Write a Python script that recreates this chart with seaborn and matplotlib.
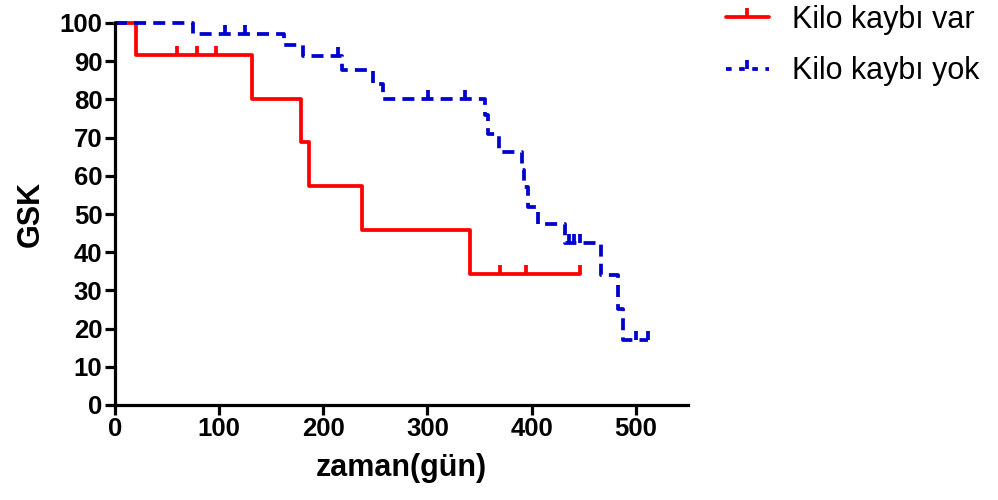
import matplotlib
matplotlib.use("Agg")
import matplotlib.pyplot as plt
from matplotlib.lines import Line2D
from matplotlib.path import Path
import pandas as pd
import seaborn as sns

# Kaplan-Meier steps (time in days, survival %)
var_times = [0, 20, 132, 179, 186, 237, 341, 446]
var_surv = [100, 91.7, 80.2, 68.8, 57.3, 45.8, 34.4, 34.4]
var_cens_t = [60, 79, 97, 370, 395, 446]
var_cens_s = [91.7, 91.7, 91.7, 34.4, 34.4, 34.4]

yok_times = [0, 75, 162, 181, 218, 248, 257, 355, 358, 369, 391, 393, 397,
             406, 432, 467, 483, 488, 512]
yok_surv = [100, 97.1, 94.3, 91.4, 87.6, 84.1, 80.2, 76.0, 71.0, 66.1, 61.6,
            57.1, 51.8, 47.3, 42.3, 34.0, 25.2, 17.0, 17.0]
yok_cens_t = [106, 125, 214, 301, 336, 436, 441, 446, 500, 512]
yok_cens_s = [97.1, 97.1, 91.4, 80.2, 80.2, 42.3, 42.3, 42.3, 17.0, 17.0]

labels = ['Kilo kaybı var', 'Kilo kaybı yok']
colors = ['#ff0000', '#0000cc']

sns.set_style("ticks")
plt.rcParams['font.family'] = ['Liberation Sans', 'DejaVu Sans']
plt.rcParams['text.color'] = 'black'
plt.rcParams['axes.labelcolor'] = 'black'
plt.rcParams['xtick.color'] = 'black'
plt.rcParams['ytick.color'] = 'black'

fig = plt.figure(figsize=(9.98, 5), dpi=100)
ax = fig.add_axes([0.1152, 0.19, 0.574, 0.764])

# censor tick: short vertical mark going up from the curve
tick = Path([(0, 0), (0, 1)], [Path.MOVETO, Path.LINETO])
LW = 2.7
AXW = 2.3

df_var = pd.DataFrame({'t': var_times, 's': var_surv})
df_yok = pd.DataFrame({'t': yok_times, 's': yok_surv})

sns.lineplot(data=df_var, x='t', y='s', ax=ax, color=colors[0], lw=LW,
             drawstyle='steps-post', estimator=None, sort=False, clip_on=False)
sns.lineplot(data=df_yok, x='t', y='s', ax=ax, color=colors[1], lw=LW,
             drawstyle='steps-post', estimator=None, sort=False, clip_on=False,
             linestyle=(0, (3.2, 1.9)))

sns.scatterplot(x=var_cens_t, y=var_cens_s, ax=ax, marker=tick, s=170,
                color=colors[0], edgecolor=colors[0], linewidth=LW, zorder=3)
sns.scatterplot(x=yok_cens_t, y=yok_cens_s, ax=ax, marker=tick, s=170,
                color=colors[1], edgecolor=colors[1], linewidth=LW, zorder=3)

ax.set_xlim(0, 550)
ax.set_ylim(0, 100)
ax.set_xticks([0, 100, 200, 300, 400, 500])
ax.set_yticks(range(0, 101, 10))
ax.set_xlabel('zaman(gün)', fontsize=22, fontweight='bold', labelpad=8)
ax.set_ylabel('GSK', fontsize=22, fontweight='bold', labelpad=10)
for lab in ax.get_xticklabels() + ax.get_yticklabels():
    lab.set_fontweight('bold')
ax.tick_params(axis='both', labelsize=18.5, width=AXW, length=7, color='black',
               labelcolor='black', direction='out', pad=2)
sns.despine(ax=ax)
for sp in ['left', 'bottom']:
    ax.spines[sp].set_linewidth(AXW)
    ax.spines[sp].set_color('black')

handles = [
    Line2D([], [], color=colors[0], lw=LW, marker=tick, markersize=13,
           markeredgewidth=LW),
    Line2D([], [], color=colors[1], lw=LW, linestyle=(0, (1.5, 2.0)),
           marker=tick, markersize=13, markeredgewidth=LW),
]
fig.legend(handles, labels, loc='upper left', bbox_to_anchor=(0.700, 1.045),
           frameon=False, fontsize=22, handlelength=1.4, handletextpad=0.75,
           labelspacing=0.7, numpoints=1)

fig.savefig('out.png', dpi=100)
